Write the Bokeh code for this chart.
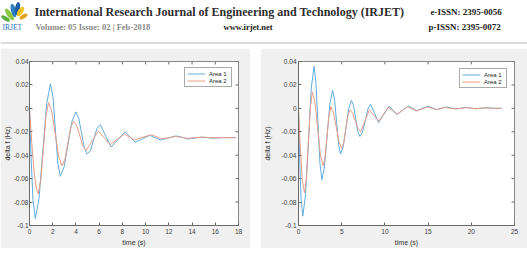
from bokeh.plotting import figure
from bokeh.layouts import column, row, Spacer
from bokeh.models import Range1d, LinearAxis, Legend, LegendItem, Label, FixedTicker
from bokeh.embed import file_html
from bokeh.resources import INLINE

# ---------------- data ----------------
# Left chart: frequency deviation of the two areas
left_t1 = [0, 0.15, 0.3, 0.5, 0.82, 1.15, 1.48, 1.8, 2.02, 2.23, 2.44, 2.65, 2.98, 3.32,
           3.66, 4.0, 4.24, 4.48, 4.72, 4.96, 5.25, 5.53, 5.82, 6.1, 6.56, 7.03, 7.63, 8.24,
           8.67, 9.1, 9.72, 10.35, 10.8, 11.3, 11.9, 12.6, 13.1, 13.6, 14.2, 14.8, 15.3,
           15.8, 16.5, 17.2, 17.8]
left_area1 = [0, -0.045, -0.078, -0.094, -0.077, -0.0365, 0.004, 0.021, 0.010, -0.0185,
              -0.047, -0.058, -0.050, -0.0305, -0.011, -0.003, -0.0085, -0.021, -0.0335,
              -0.039, -0.036, -0.0265, -0.017, -0.014, -0.0235, -0.033, -0.0265, -0.020,
              -0.0245, -0.029, -0.026, -0.023, -0.025, -0.027, -0.0255, -0.0235, -0.0245,
              -0.0262, -0.0255, -0.0245, -0.025, -0.0255, -0.025, -0.025, -0.025]
left_t2 = [0, 0.2, 0.4, 0.58, 0.75, 0.97, 1.2, 1.42, 1.64, 1.93, 2.22, 2.51, 2.8, 3.05,
           3.3, 3.55, 3.8, 4.07, 4.34, 4.6, 4.87, 5.4, 5.94, 6.45, 6.95, 7.56, 8.18, 8.6,
           9.05, 9.78, 10.5, 10.95, 11.4, 12.0, 12.6, 13.1, 13.6, 14.3, 15.0, 15.8, 16.6, 17.8]
left_area2 = [0, -0.03, -0.055, -0.068, -0.073, -0.0615, -0.034, -0.0065, 0.005, -0.003,
              -0.022, -0.041, -0.049, -0.0435, -0.030, -0.0165, -0.011, -0.0147, -0.0235,
              -0.0323, -0.036, -0.0277, -0.0194, -0.0252, -0.031, -0.0265, -0.022, -0.0245,
              -0.027, -0.0245, -0.0225, -0.0243, -0.026, -0.025, -0.024, -0.0248, -0.0256,
              -0.025, -0.0246, -0.0252, -0.025, -0.025]

# Right chart
right_t1 = [0, 0.15, 0.3, 0.5, 0.82, 1.15, 1.48, 1.8, 2.02, 2.25, 2.48, 2.7, 3.01, 3.32,
            3.64, 3.95, 4.18, 4.41, 4.64, 4.87, 5.19, 5.5, 5.82, 6.13, 6.37, 6.62, 6.86,
            7.1, 7.41, 7.73, 8.04, 8.35, 8.81, 9.27, 9.88, 10.5, 10.95, 11.4, 12.05, 12.7,
            13.2, 13.7, 14.35, 15.0, 15.5, 16.0, 16.55, 17.1, 17.65, 18.2, 18.8, 19.4,
            19.95, 20.5, 21.05, 21.6, 22.5, 23.5]
right_area1 = [0, -0.045, -0.078, -0.092, -0.0733, -0.028, 0.0173, 0.036, 0.0218, -0.0125,
               -0.0468, -0.061, -0.0498, -0.0228, 0.0042, 0.0154, 0.0074, -0.0118, -0.031,
               -0.039, -0.0323, -0.0161, 0.0001, 0.0068, 0.0023, -0.0086, -0.0195, -0.024,
               -0.0201, -0.0103, -0.0005, 0.0035, -0.0044, -0.0122, -0.0051, 0.002, -0.0017,
               -0.0054, -0.0017, 0.002, 0.0, -0.002, 0.0, 0.0018, 0.0004, -0.001, 0.0001,
               0.0012, 0.0003, -0.0005, 0.0001, 0.0008, 0.0002, -0.0003, 0.0001, 0.0005,
               0.0001, 0.0]
right_t2 = [0, 0.2, 0.45, 0.7, 0.92, 1.15, 1.38, 1.6, 1.91, 2.22, 2.54, 2.85, 3.07, 3.3,
            3.52, 3.75, 4.06, 4.38, 4.69, 5.0, 5.24, 5.48, 5.71, 5.95, 6.26, 6.58, 6.89,
            7.2, 7.7, 8.2, 8.75, 9.3, 9.85, 10.4, 10.9, 11.4, 12.0, 12.6, 13.15, 13.7,
            14.3, 14.9, 15.45, 16.0, 16.5, 17.0, 17.6, 18.2, 18.8, 19.4, 20.0, 20.6, 21.2,
            21.8, 22.6, 23.5]
right_area2 = [0, -0.032, -0.062, -0.072, -0.0594, -0.029, 0.0014, 0.014, 0.0048, -0.0175,
               -0.0398, -0.049, -0.0417, -0.0239, -0.006, 0.0013, -0.0039, -0.0164, -0.0289,
               -0.034, -0.0292, -0.0177, -0.0062, -0.0014, -0.0041, -0.0107, -0.0173, -0.020,
               -0.0107, -0.0014, -0.0062, -0.011, -0.005, 0.001, -0.002, -0.005, -0.0018,
               0.0015, -0.0004, -0.0022, -0.0005, 0.0012, 0.0001, -0.001, -0.0001, 0.0008,
               0.0, -0.0005, 0.0, 0.0006, 0.0, -0.0003, 0.0001, 0.0004, 0.0, 0.0]

y_ticks = [-0.1, -0.08, -0.06, -0.04, -0.02, 0.0, 0.02, 0.04]
y_tick_labels = ["-0.1", "-0.08", "-0.06", "-0.04", "-0.02", "0", "0.02", "0.04"]
left_x_ticks = [0, 2, 4, 6, 8, 10, 12, 14, 16, 18]
right_x_ticks = [0, 5, 10, 15, 20, 25]
series_names = ["Area 1", "Area 2"]

BLUE = "#62acdc"
RED = "#e99c84"
AX = "#6a6a6a"
FONT = "Liberation Sans"
TICK_PX = 3


def chart(width, height, xmax, x_ticks, t1, v1, t2, v2, borders, legend_margin,
          label_standoff, tick_standoff):
    bl, br, bt, bb = borders
    ymin, ymax = y_ticks[0], y_ticks[-1]
    p = figure(width=width, height=height, output_backend="svg", toolbar_location=None,
               x_range=Range1d(0, xmax), y_range=Range1d(ymin, ymax),
               min_border_left=bl, min_border_right=br, min_border_top=bt,
               min_border_bottom=bb, x_axis_type=None, y_axis_type=None)
    p.border_fill_color = "#f0f0f0"
    p.background_fill_color = "white"
    p.outline_line_color = AX
    p.outline_line_width = 0.8
    p.grid.visible = False

    xb = LinearAxis(ticker=FixedTicker(ticks=x_ticks), axis_label="time (s)")
    yl = LinearAxis(ticker=FixedTicker(ticks=y_ticks), axis_label="delta f (Hz)")
    yl.major_label_overrides = {v: s for v, s in zip(y_ticks, y_tick_labels)}
    xb.major_label_overrides = {v: str(v) for v in x_ticks}
    for ax in (xb, yl):
        ax.major_tick_in = TICK_PX
        ax.major_tick_out = 0
        ax.minor_tick_line_color = None
        ax.axis_line_color = AX
        ax.major_tick_line_color = AX
        ax.major_label_text_font = FONT
        ax.major_label_text_font_size = "6.5px"
        ax.major_label_text_color = "#404040"
        ax.axis_label_text_font = FONT
        ax.axis_label_text_font_size = "7px"
        ax.axis_label_text_font_style = "normal"
        ax.axis_label_text_color = "#333333"
    xb.major_label_standoff = 3
    xb.axis_label_standoff = 2
    yl.major_label_standoff = tick_standoff
    yl.axis_label_standoff = label_standoff
    p.add_layout(xb, "below")
    p.add_layout(yl, "left")

    # inward tick marks on the top and right edges of the box
    inner_w = width - bl - br
    inner_h = height - bt - bb
    dy = (ymax - ymin) * TICK_PX / inner_h
    dx = xmax * TICK_PX / inner_w
    p.segment(x0=x_ticks, y0=[ymax] * len(x_ticks), x1=x_ticks, y1=[ymax - dy] * len(x_ticks),
              line_color=AX, line_width=1)
    p.segment(x0=[xmax] * len(y_ticks), y0=y_ticks, x1=[xmax - dx] * len(y_ticks), y1=y_ticks,
              line_color=AX, line_width=1)

    r1 = p.line(t1, v1, line_color=BLUE, line_width=1, line_join="round")
    r2 = p.line(t2, v2, line_color=RED, line_width=1, line_join="round")
    legend = Legend(items=[LegendItem(label=series_names[0], renderers=[r1]),
                           LegendItem(label=series_names[1], renderers=[r2])],
                    location="top_right")
    legend.margin = legend_margin
    legend.padding = 2
    legend.spacing = 0
    legend.glyph_width = 18
    legend.glyph_height = 7
    legend.label_height = 7
    legend.label_standoff = 4
    legend.label_text_font = FONT
    legend.label_text_font_size = "6px"
    legend.label_text_color = "#222222"
    legend.border_line_color = "#555555"
    legend.border_line_width = 0.7
    legend.background_fill_color = "white"
    legend.background_fill_alpha = 1
    p.add_layout(legend)
    return p


left = chart(250, 200, 18, left_x_ticks, left_t1, left_area1, left_t2, left_area2,
             (28, 12, 13, 22), 6, 0, 1)
right = chart(267, 200, 25, right_x_ticks, right_t1, right_area1, right_t2, right_area2,
              (38, 13, 7, 22), 7, 8, 2)

# ---------------- page header ----------------
head = figure(width=527, height=48, output_backend="svg", toolbar_location=None,
              x_range=Range1d(0, 527), y_range=Range1d(48, 0),
              min_border=0, x_axis_type=None, y_axis_type=None)
head.grid.visible = False
head.outline_line_color = None
head.border_fill_color = "white"
head.background_fill_color = "white"

# journal logo: fanned leaves above the acronym
head.ellipse(x=[9, 13, 17, 20], y=[14, 10, 8, 11], width=[5, 5, 5, 5], height=[14, 14, 13, 11],
             angle=[0.6, 0.25, -0.15, -0.6],
             fill_color=["#8dc63f", "#2e7fc1", "#1c5fa8", "#f2c521"], line_color=None)
head.ellipse(x=[5, 23], y=[18, 16], width=[4, 4], height=[10, 9], angle=[1.0, -1.0],
             fill_color=["#5fae44", "#e0a21d"], line_color=None)
head.add_layout(Label(x=2, y=27, text="IRJET", text_font="Liberation Serif",
                      text_font_size="7.5px", text_color="#2a6db5",
                      text_baseline="middle"))

hdr = [
    (34, 11, "International Research Journal of Engineering and Technology (IRJET)", "12px", "#2d2d2d"),
    (430, 11, "e-ISSN: 2395-0056", "9px", "#222222"),
    (35, 26, "Volume: 05 Issue: 02 | Feb-2018", "8.5px", "#8a8a8a"),
    (223, 26, "www.irjet.net", "8.5px", "#222222"),
    (428, 26, "p-ISSN: 2395-0072", "9px", "#222222"),
]
for x, y, txt, size, color in hdr:
    head.add_layout(Label(x=x, y=y, text=txt, text_font="Liberation Serif",
                          text_font_style="bold", text_font_size=size,
                          text_color=color, text_baseline="middle"))
head.segment(x0=[0], y0=[42.5], x1=[527], y1=[42.5], line_color="#b5b5b5", line_width=1)

page = column(head, row(left, Spacer(width=10, height=200), right), spacing=0)

open("out.html", "w").write(file_html(page, INLINE))
